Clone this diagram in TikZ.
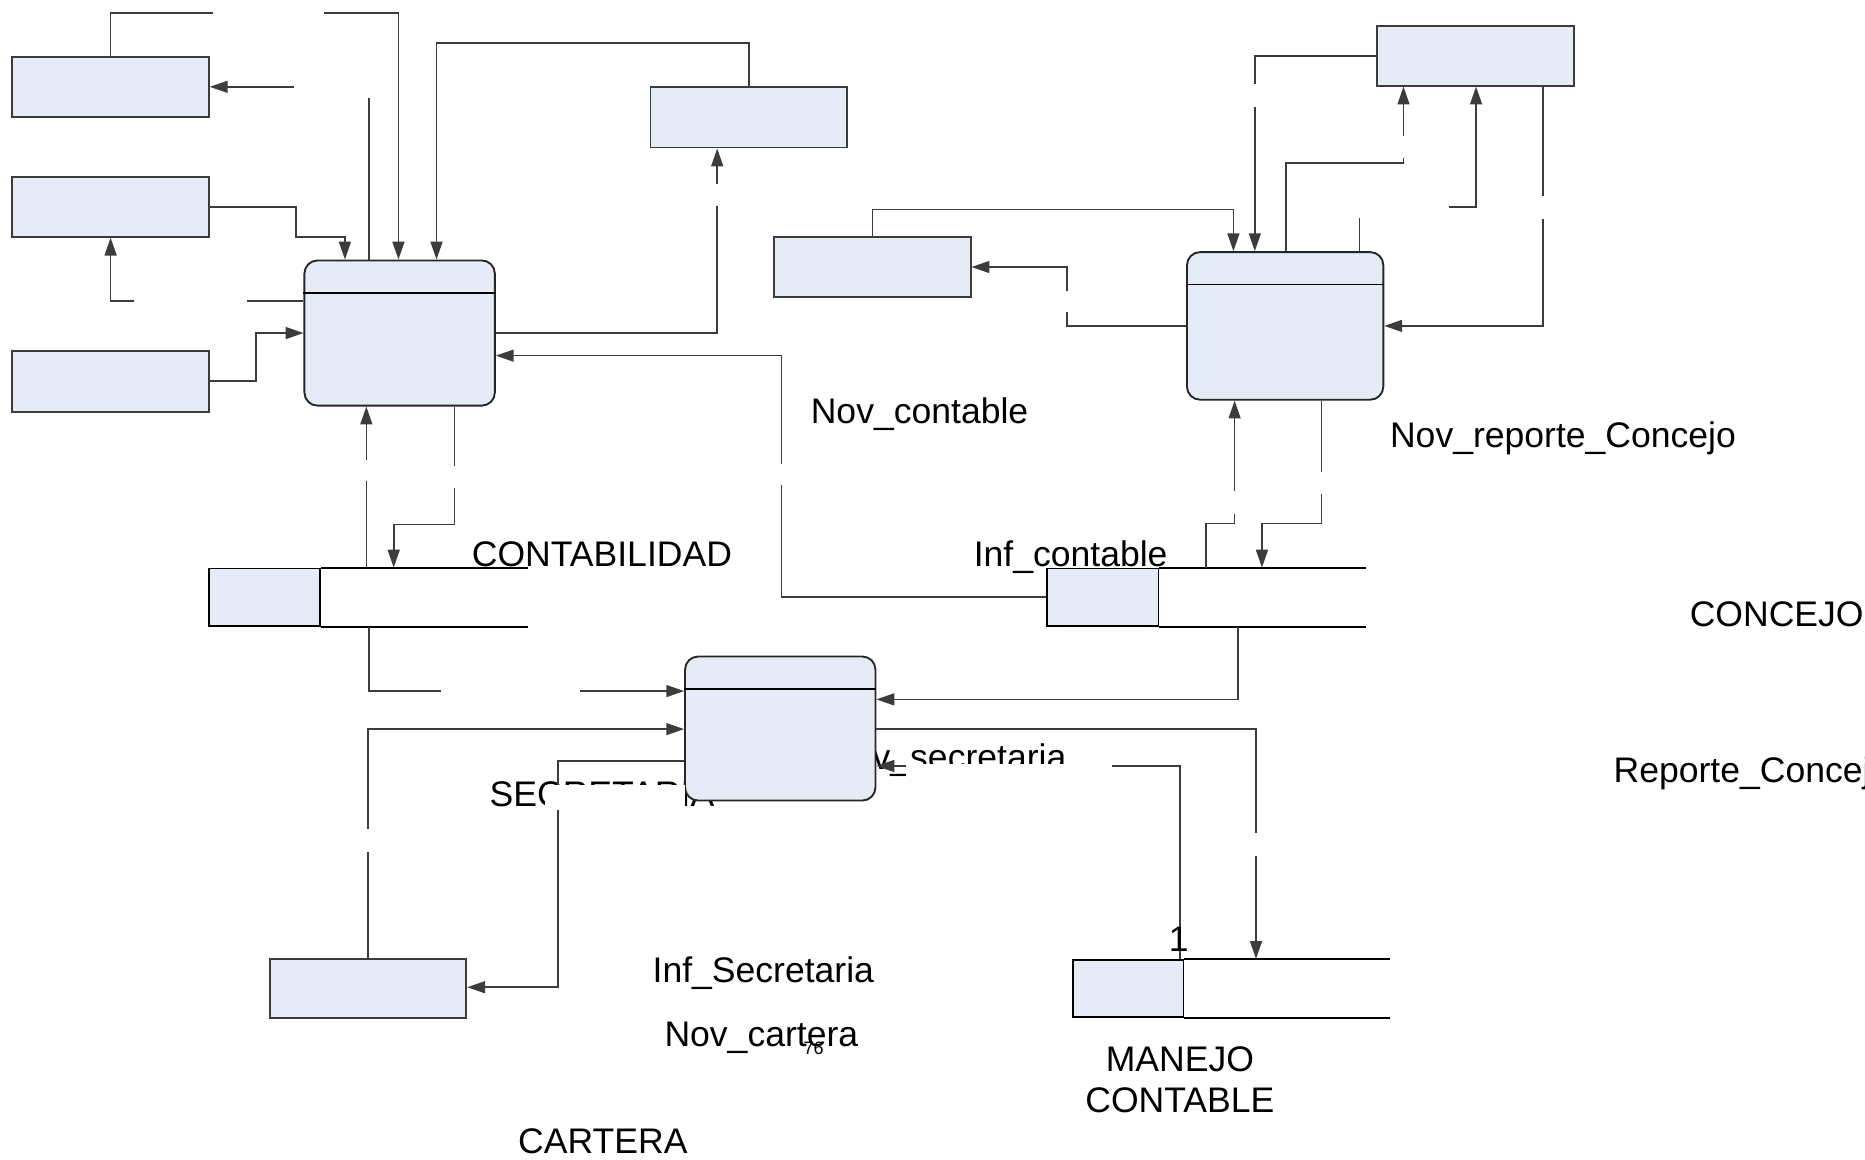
\documentclass[tikz,border=0pt]{standalone}
\usepackage{fontspec}
\setmainfont{Liberation Sans}
\usetikzlibrary{arrows.meta,calc}
\definecolor{boxfill}{RGB}{230,236,247}
\definecolor{ln}{RGB}{60,60,60}
\begin{document}
\begin{tikzpicture}[x=0.01cm,y=-0.01cm,
  ext/.style={draw=ln,fill=boxfill,line width=0.45pt,inner sep=0pt,minimum width=1.65cm,minimum height=0.5cm},
  proc/.style={draw=black!85,fill=boxfill,line width=0.45pt,rounded corners=0.11cm,inner sep=0pt,minimum width=1.6cm,minimum height=1.22cm},
  stbox/.style={draw=black,fill=boxfill,line width=0.45pt,inner sep=0pt,minimum width=0.93cm,minimum height=0.48cm},
  stl/.style={draw=black,line width=0.45pt},
  divl/.style={draw=black,line width=0.45pt},
  flow/.style={draw=ln,line width=0.4pt},
  arr/.style={flow,-{Triangle[length=1.5mm,width=1.0mm]}},
  lbl/.style={font=\fontsize{8.5}{10}\selectfont,inner sep=0pt,anchor=base west},
  mask/.style={fill=white,draw=none}]
\useasboundingbox (0,0) rectangle (1568,975);
\fill[white] (0,0) rectangle (1568,975);

% labels that lie under shapes
\node[lbl] (tsec) at (411,678) {SECRETARIA};
\node[lbl] (tnovsec) at (733,647) {v\_secretaria};

% external entities
\node[ext] (eA) at (93,73) {};
\node[ext] (eB) at (93,174) {};
\node[ext,minimum height=0.51cm] (eD) at (93,320.5) {};
\node[ext,minimum height=0.51cm] (eC) at (629.5,98.5) {};
\node[ext,minimum height=0.51cm] (eE) at (733.5,224.5) {};
\node[ext] (eF) at (1240.5,47) {};
\node[ext] (eG) at (309.5,831) {};

% processes
\node[proc] (P1) at (336,280) {};
\draw[divl] ($(P1.north west)+(0,28)$) -- ($(P1.north east)+(0,28)$);
\node[proc,minimum width=1.65cm,minimum height=1.24cm] (P2) at (1080.5,274) {};
\draw[divl] ($(P2.north west)+(0,28)$) -- ($(P2.north east)+(0,28)$);
\node[proc,minimum height=1.21cm] (P3) at (656,612.5) {};
\draw[divl] ($(P3.north west)+(0,28)$) -- ($(P3.north east)+(0,28)$);

% data stores
\node[stbox] (s1) at (222.5,502) {};
\draw[stl] (s1.north east) -- ++(174,0) (s1.south east) -- ++(174,0);
\node[stbox,minimum width=0.94cm] (s2) at (927,502) {};
\draw[stl] (s2.north east) -- ++(174,0) (s2.south east) -- ++(174,0);
\node[stbox] (s3) at (948.5,831) {};
\draw[stl] (s3.north east) -- ++(173,0) (s3.south east) -- ++(173,0);

% connectors, left part
\draw[flow] (eA.north) |- (179,11);
\draw[arr] (272,11) -| (335,0 |- P1.north);
\draw[arr] (247,73) -- (eA.east);
\draw[flow] (310,82) -- (310,0 |- P1.north);
\draw[arr] (eC.north) |- (367,36) -- (367,0 |- P1.north);
\draw[arr] (eB.east) -| (249,199) -| (290,0 |- P1.north);
\draw[arr] (113,253) -| (eB.south);
\draw[flow] (208,253) -- (P1.west |- 0,253);
\draw[arr] (eD.east) -| (215,280) -- (P1.west |- 0,280);
\draw[flow] (P1.east) -- (603,280) -- (603,173);
\draw[arr] (603,155) -- (603,0 |- eC.south);
\draw[arr] (657,390) -- (657,299) -- (P1.east |- 0,299);
\draw[flow] (657,408) |- (s2.west);
\draw[arr] (308,387) -- (308,0 |- P1.south);
\draw[flow] (308,404) -- (308,0 |- s1.north);
\draw[flow] (382,0 |- P1.south) -- (382,392);
\draw[arr] (382,410) |- (331,441) -- (331,0 |- s1.north);
\draw[flow] (310,0 |- s1.south) |- (371,581);
\draw[arr] (488,581) -- (P3.west |- 0,581);
\draw[flow] (eG.north) -- (309.5,716);
\draw[arr] (309.5,697) |- (P3.west |- 0,613);
\draw[arr] (P3.west |- 0,640) -| (469,830) -- (eG.east |- 0,830);
\draw[arr] (1041,0 |- s2.south) |- (P3.east |- 0,588);
\draw[flow] (P3.east |- 0,613) -| (1056,700);
\draw[arr] (1056,720) -- (1056,0 |- s3.north);
\draw[arr] (992,0 |- s3.north) |- (P3.east |- 0,644);

% connectors, right part
\draw[flow] (eF.west) -| (1055,71);
\draw[arr] (1055,90) -- (1055,0 |- P2.north);
\draw[arr] (eE.north) |- (1037,176) -- (1037,0 |- P2.north);
\draw[flow] (1081,0 |- P2.north) |- (1180,137) -- (1180,133);
\draw[arr] (1180,114) -- (1180,0 |- eF.south);
\draw[flow] (1143,0 |- P2.north) -- (1143,183);
\draw[arr] (1218,174) -| (1241,0 |- eF.south);
\draw[flow] (1297,0 |- eF.south) -- (1297,165);
\draw[arr] (1297,184) |- (P2.east);
\draw[flow] (P2.west) -| (897,262);
\draw[arr] (897,245) |- (eE.east);
\draw[flow] (1014,0 |- s2.north) |- (1038,440) -- (1038,432);
\draw[arr] (1038,413) -- (1038,0 |- P2.south);
\draw[flow] (1111,0 |- P2.south) -- (1111,397);
\draw[arr] (1111,415) |- (1061,440) -- (1061,0 |- s2.north);

% white masks from overlapping text boxes
\fill[mask] (458,660) rectangle (575.5,681);
\fill[mask] (762,642) rectangle (935,660);

% labels
\node[lbl] (tnovc) at (681,356) {Nov\_contable};
\node[lbl] (tnovrep) at (1168,376) {Nov\_reporte\_Concejo};
\node[lbl] (tcont) at (396,476) {CONTABILIDAD};
\node[lbl] (tinfc) at (818,476) {Inf\_contable};
\node[lbl] (tconc) at (1420,527) {CONCEJO};
\node[lbl] (trep) at (1356,658) {Reporte\_Concejo};
\node[lbl] (tinfs) at (548,826) {Inf\_Secretaria};
\node[lbl] (tnovcar) at (558,880) {Nov\_cartera};
\node[font=\fontsize{4.3}{5}\selectfont,inner sep=0pt] (tpage) at (684,881) {76};
\node[lbl,anchor=base] (tone) at (991,800) {1};
\node[lbl,anchor=base] (tman1) at (992,901) {MANEJO};
\node[lbl,anchor=base] (tman2) at (992,935) {CONTABLE};
\node[lbl] (tcar) at (435,970) {CARTERA};
\end{tikzpicture}
\end{document}
